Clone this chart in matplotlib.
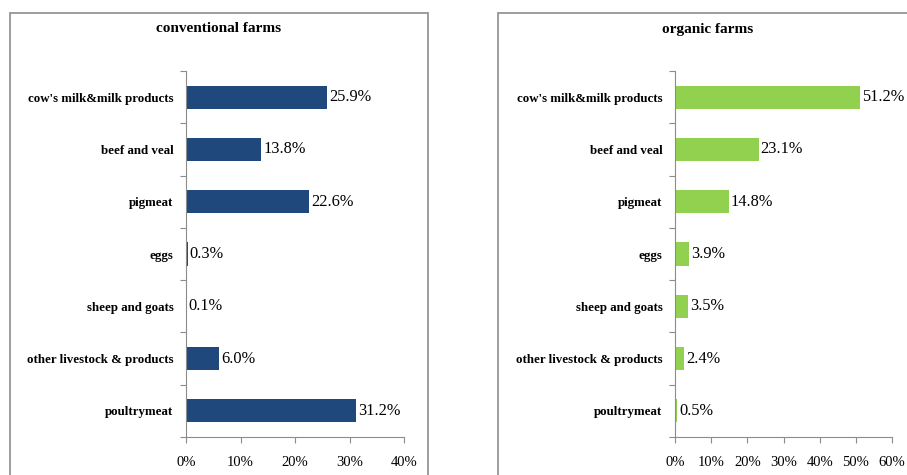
import matplotlib
matplotlib.use("Agg")
import matplotlib.pyplot as plt
from matplotlib.patches import Rectangle

categories = [
    "cow's milk&milk products",
    "beef and veal",
    "pigmeat",
    "eggs",
    "sheep and goats",
    "other livestock & products",
    "poultrymeat",
]
conventional = [25.9, 13.8, 22.6, 0.3, 0.1, 6.0, 31.2]
organic = [51.2, 23.1, 14.8, 3.9, 3.5, 2.4, 0.5]

conv_ticks = [0, 10, 20, 30, 40]
org_ticks = [0, 10, 20, 30, 40, 50, 60]

plt.rcParams["font.family"] = ["Liberation Serif", "DejaVu Serif"]

fig = plt.figure(figsize=(9.07, 4.75), dpi=100)
W, H = 907, 475


def px_axes(x0, y0, x1, y1):
    # axes rectangle given in pixel coords measured from top-left
    return fig.add_axes([x0 / W, 1 - y1 / H, (x1 - x0) / W, (y1 - y0) / H])


def panel(ax, values, ticks, color, title, box):
    # outer chart border
    bx0, by0, bx1, by1 = box
    fig.patches.append(Rectangle((bx0 / W, 1 - by1 / H), (bx1 - bx0) / W, (by1 - by0) / H,
                                 transform=fig.transFigure, fill=False,
                                 edgecolor="#8c8c8c", linewidth=1.2))
    fig.text((bx0 + bx1) / 2 / W, 1 - 29 / H, title, ha="center", va="center",
             fontsize=11, fontweight="bold")

    n = len(values)
    ys = list(range(n))
    ax.barh(ys, values, height=0.44, color=color)
    for y, v in zip(ys, values):
        ax.text(v + ticks[-1] * 0.01, y, f"{v:.1f}%", va="center", ha="left",
                fontsize=11.8)

    ax.set_ylim(n - 0.5, -0.5)
    ax.set_xlim(ticks[0], ticks[-1])
    ax.set_xticks(ticks)
    ax.set_xticklabels([f"{t}%" for t in ticks], fontsize=10.5)
    ax.set_yticks([y - 0.5 for y in range(n + 1)])
    ax.set_yticklabels([])
    ax.set_yticks(ys, minor=True)
    ax.set_yticklabels(categories, minor=True, fontsize=9.3, fontweight="bold")
    ax.tick_params(axis="y", which="minor", length=0, pad=9)
    ax.tick_params(axis="y", which="major", length=4, color="#8c8c8c")
    ax.tick_params(axis="x", length=4, color="#8c8c8c", pad=10)
    for side in ("top", "right"):
        ax.spines[side].set_visible(False)
    for side in ("left", "bottom"):
        ax.spines[side].set_color("#8c8c8c")


ax1 = px_axes(186, 71, 404, 437)
panel(ax1, conventional, conv_ticks, "#1F497D", "conventional farms", (10, 13, 428, 490))

ax2 = px_axes(675, 71, 892, 437)
panel(ax2, organic, org_ticks, "#92D050", "organic farms", (498, 13, 917, 490))

fig.savefig("out.png", dpi=100)
